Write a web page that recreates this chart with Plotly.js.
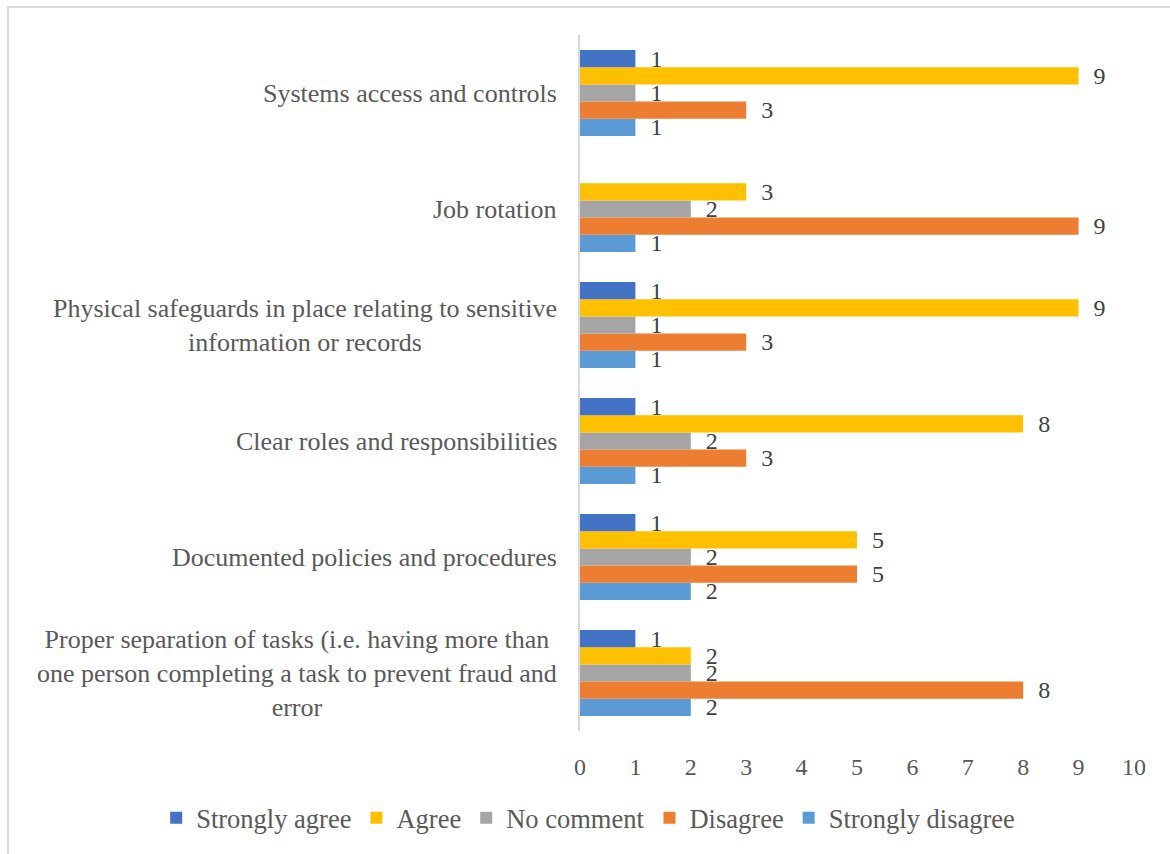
<!DOCTYPE html>
<html>
<head>
<meta charset="utf-8">
<script src="https://cdn.plot.ly/plotly-3.0.1.min.js"></script>
<style>
  html, body { margin: 0; padding: 0; background: #fff; }
  #chart { position: absolute; left: 0; top: 0; width: 1170px; height: 854px; }
  #frame { position: absolute; left: 7px; top: 6px; width: 1163px; height: 848px;
           border-top: 2px solid #d9d9d9; border-left: 2px solid #d9d9d9; pointer-events: none; box-sizing: border-box; }
</style>
</head>
<body>
<div id="chart"></div>
<div id="frame"></div>
<script>
// Categories (bottom to top, as in the source chart)
const categories = [
  "Proper separation of tasks (i.e. having more than<br>one person completing a task to prevent fraud and<br>error",
  "Documented policies and procedures",
  "Clear roles and responsibilities",
  "Physical safeguards in place relating to sensitive<br>information or records",
  "Job rotation",
  "Systems access and controls"
];
const seriesNames = ["Strongly agree", "Agree", "No comment", "Disagree", "Strongly disagree"];
const stronglyAgree    = [1, 1, 1, 1, null, 1];
const agree            = [2, 5, 8, 9, 3, 9];
const noComment        = [2, 2, 2, 1, 2, 1];
const disagree         = [8, 5, 3, 3, 9, 3];
const stronglyDisagree = [2, 2, 1, 1, 1, 1];
const xTicks = [0, 1, 2, 3, 4, 5, 6, 7, 8, 9, 10];

const colors = {
  "Strongly agree": "#4472C4",
  "Agree": "#FFC000",
  "No comment": "#A5A5A5",
  "Disagree": "#ED7D31",
  "Strongly disagree": "#5B9BD5"
};
const valuesBySeries = {
  "Strongly agree": stronglyAgree,
  "Agree": agree,
  "No comment": noComment,
  "Disagree": disagree,
  "Strongly disagree": stronglyDisagree
};

const serif = "Liberation Serif, Times New Roman, serif";
const ycats = categories.map((c, i) => "c" + i);

// plotly places grouped horizontal bars bottom-up, so add traces in reverse
const traces = seriesNames.slice().reverse().map(name => ({
  type: "bar",
  orientation: "h",
  name: name,
  y: ycats,
  x: valuesBySeries[name],
  marker: { color: colors[name] },
  texttemplate: "\u00A0\u00A0%{x}",
  textposition: "outside",
  constraintext: "none",
  cliponaxis: false,
  textfont: { family: serif, size: 24, color: "#404040" },
  hoverinfo: "x+name"
}));

const annotations = categories.map((c, i) => ({
  xref: "paper", yref: "y",
  x: 0, y: ycats[i],
  xshift: -21,
  xanchor: "right", yanchor: "middle",
  align: "center",
  text: c,
  showarrow: false,
  font: { family: serif, size: 26, color: "#595959" }
}));

const layout = {
  width: 1170, height: 854,
  margin: { l: 580, r: 36, t: 35, b: 123 },
  paper_bgcolor: "rgba(0,0,0,0)",
  plot_bgcolor: "rgba(0,0,0,0)",
  barmode: "group",
  bargap: 0.26,
  bargroupgap: 0,
  showlegend: true,
  legend: {
    orientation: "h",
    traceorder: "reversed",
    xref: "paper", yref: "paper",
    x: -0.765, y: -0.125,
    xanchor: "left", yanchor: "middle",
    font: { family: serif, size: 26.5, color: "#595959" },
    itemclick: false
  },
  xaxis: {
    range: [0, 10],
    tickvals: xTicks,
    ticktext: xTicks.map(String),
    showgrid: false,
    zeroline: false,
    showline: false,
    ticks: "",
    ticklabelstandoff: 19,
    tickfont: { family: serif, size: 24, color: "#595959" },
    fixedrange: true
  },
  yaxis: {
    type: "category",
    categoryorder: "array",
    categoryarray: ycats,
    showticklabels: false,
    showgrid: false,
    zeroline: false,
    showline: true,
    linecolor: "#d9d9d9",
    linewidth: 2,
    ticks: "",
    fixedrange: true
  },
  annotations: annotations
};

Plotly.newPlot("chart", traces, layout, { displayModeBar: false });
</script>
</body>
</html>
